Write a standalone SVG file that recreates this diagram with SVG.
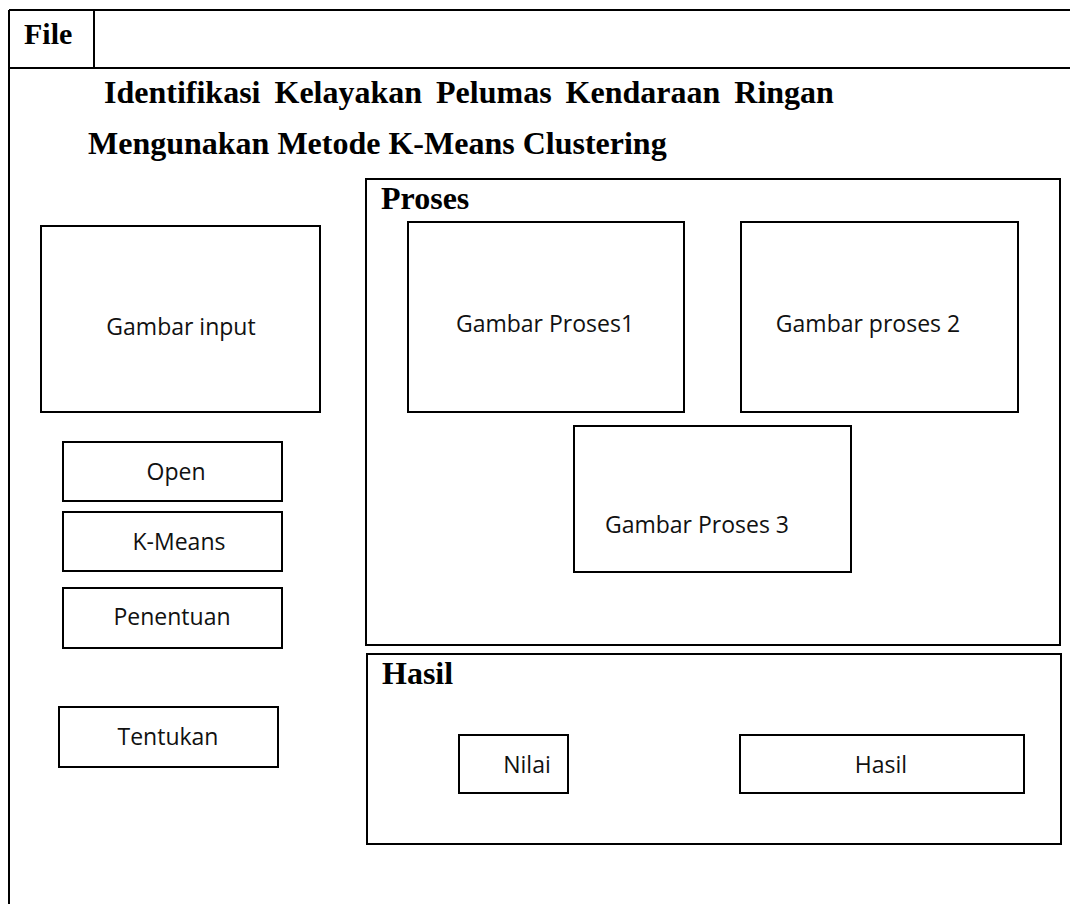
<svg xmlns="http://www.w3.org/2000/svg" width="1070" height="904" viewBox="0 0 1070 904">
<style>
.frame{fill:none;stroke:#000;stroke-width:2}
.box{fill:#fff;stroke:#000;stroke-width:2}
.h{font-family:"Liberation Serif",serif;font-weight:bold;fill:#000}
.t{font-family:"Open Sans","Noto Sans",sans-serif;font-size:23px;fill:#111;text-anchor:middle}
</style>
<rect width="1070" height="904" fill="#fff"/>
<g id="frame">
<line class="frame" x1="9" y1="10" x2="1070" y2="10"/>
<line class="frame" x1="9" y1="10" x2="9" y2="904"/>
<line class="frame" x1="94" y1="10" x2="94" y2="68"/>
<line class="frame" x1="9" y1="68" x2="1070" y2="68"/>
<text class="h" x="24" y="44" font-size="30">File</text>
<text class="h" x="104" y="103" font-size="32" word-spacing="6">Identifikasi Kelayakan Pelumas Kendaraan Ringan</text>
<text class="h" x="88" y="154" font-size="32">Mengunakan Metode K-Means Clustering</text>
</g>
<g id="input"><rect class="box" x="41" y="226" width="279" height="186"/><text class="t" x="181" y="335">Gambar input</text></g>
<g id="open"><rect class="box" x="63" y="442" width="219" height="59"/><text class="t" x="176" y="480">Open</text></g>
<g id="kmeans"><rect class="box" x="63" y="512" width="219" height="59"/><text class="t" x="179" y="550">K-Means</text></g>
<g id="penentuan"><rect class="box" x="63" y="588" width="219" height="60"/><text class="t" x="172" y="625">Penentuan</text></g>
<g id="tentukan"><rect class="box" x="59" y="707" width="219" height="60"/><text class="t" x="168" y="745">Tentukan</text></g>
<g id="proses"><rect class="box" x="366" y="179" width="694" height="466"/><text class="h" x="381" y="209" font-size="32">Proses</text></g>
<g id="proses1"><rect class="box" x="408" y="222" width="276" height="190"/><text class="t" x="545" y="332">Gambar Proses1</text></g>
<g id="proses2"><rect class="box" x="741" y="222" width="277" height="190"/><text class="t" x="868" y="332">Gambar proses 2</text></g>
<g id="proses3"><rect class="box" x="574" y="426" width="277" height="146"/><text class="t" x="697" y="533">Gambar Proses 3</text></g>
<g id="hasil"><rect class="box" x="367" y="654" width="694" height="190"/><text class="h" x="382" y="684" font-size="32">Hasil</text></g>
<g id="nilai"><rect class="box" x="459" y="735" width="109" height="58"/><text class="t" x="527" y="773">Nilai</text></g>
<g id="hasil2"><rect class="box" x="740" y="735" width="284" height="58"/><text class="t" x="881" y="773">Hasil</text></g>
<g id="connectors"></g>
</svg>
